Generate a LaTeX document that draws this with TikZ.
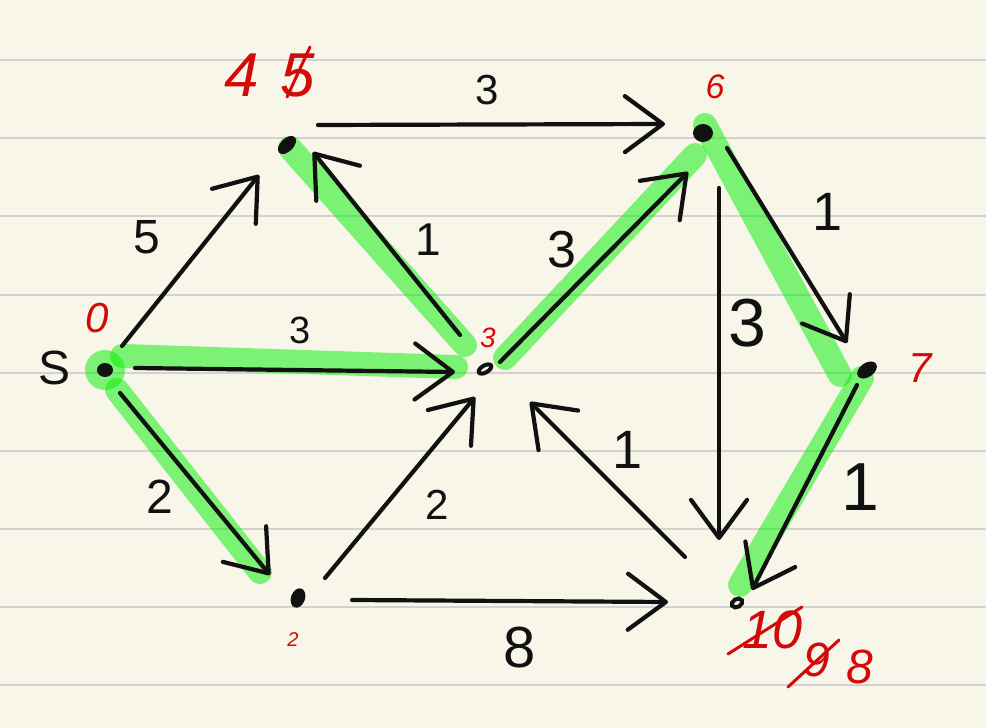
\documentclass[tikz,border=0pt]{standalone}
\usepackage{fontspec}
\setmainfont{Liberation Sans}
\usetikzlibrary{arrows.meta,shapes.geometric}
\definecolor{paper}{HTML}{F8F6E9}
\definecolor{ruling}{HTML}{D2D2D2}
\definecolor{ink}{HTML}{111111}
\definecolor{redink}{HTML}{D20A0A}
\definecolor{hl}{RGB}{0,240,0}
\newcommand{\fsz}[1]{\fontsize{#1}{#1}\selectfont}
\begin{document}
\begin{tikzpicture}[x=0.5pt,y=-0.5pt,
  ruleline/.style={draw=ruling,line width=1pt},
  arr/.style={draw=ink,line width=2.1pt,line cap=round,line join=round,
    -{Straight Barb[length=19pt,width=28pt,round]}},
  hlpath/.style={draw=hl,draw opacity=0.5,line width=12pt,line cap=round},
  dot/.style={ellipse,fill=ink,inner sep=0pt},
  ring/.style={ellipse,draw=ink,line width=2pt,inner sep=0pt},
  wlbl/.style={text=ink,inner sep=0pt},
  rlbl/.style={text=redink,inner sep=0pt,font=\itshape},
  strike/.style={draw=redink,line width=1.5pt,line cap=round}]
\useasboundingbox (0,0) rectangle (986,728);
\fill[paper] (0,0) rectangle (986,728);
\foreach \yy in {60,138,216,294.5,372.5,450.5,528.5,607,685}
  \draw[ruleline] (0,\yy) -- (986,\yy);

% vertices
\coordinate (S) at (105,370);
\coordinate (A) at (287,145);
\coordinate (B) at (485,369);
\coordinate (C) at (298,598);
\coordinate (D) at (703,133);
\coordinate (E) at (867,370);
\coordinate (F) at (737,603);

% green highlights
\fill[hl,fill opacity=0.5] (S) circle (20);
\draw[hlpath] ([shift={(17,-14)}]S) -- ([shift={(-29,-2)}]B);
\draw[hlpath] ([shift={(12,20)}]S) -- ([shift={(-38,-26)}]C);
\draw[hlpath] ([shift={(-20,-24)}]B) -- ([shift={(3,3)}]A);
\draw[hlpath] ([shift={(20,-11)}]B) -- ([shift={(-8,22)}]D);
\draw[hlpath] ([shift={(2,-8)}]D) -- ([shift={(-27,5)}]E);
\draw[hlpath] ([shift={(-5,8)}]E) -- ([shift={(3,-18)}]F);

% dots
\node[dot,minimum width=8pt,minimum height=7pt] (Sd) at (S) {};
\node[dot,minimum width=6.5pt,minimum height=11pt,rotate=-45] (Ad) at (A) {};
\node[ring,minimum width=7pt,minimum height=3.5pt,rotate=30] (Bd) at (B) {};
\node[dot,minimum width=7pt,minimum height=10pt,rotate=-20] (Cd) at (C) {};
\node[dot,minimum width=10pt,minimum height=9pt] (Dd) at (D) {};
\node[dot,minimum width=11pt,minimum height=7pt,rotate=35] (Ed) at (E) {};
\node[ring,minimum width=5.5pt,minimum height=4pt,rotate=30] (Fd) at (F) {};

% arrows
\draw[arr] ([shift={(17,-24)}]S) -- ([shift={(-28,30)}]A);
\draw[arr] ([shift={(30,-2)}]S) -- ([shift={(-30,3)}]B);
\draw[arr] ([shift={(15,23)}]S) -- ([shift={(-28,-23)}]C);
\draw[arr] ([shift={(-25,-34)}]B) -- ([shift={(26,7)}]A);
\draw[arr] ([shift={(31,-20)}]A) -- ([shift={(-38,-9)}]D);
\draw[arr] ([shift={(15,-7)}]B) -- ([shift={(-15,39)}]D);
\draw[arr] ([shift={(27,-20)}]C) -- ([shift={(-10,28)}]B);
\draw[arr] ([shift={(54,2)}]C) -- ([shift={(-69,-1)}]F);
\draw[arr] ([shift={(24,15)}]D) -- ([shift={(-20,-27)}]E);
\draw[arr] ([shift={(16,55)}]D) -- ([shift={(-18,-63)}]F);
\draw[arr] ([shift={(-52,-46)}]F) -- ([shift={(45,33)}]B);
\draw[arr] ([shift={(-10,15)}]E) -- ([shift={(15,-13)}]F);

% edge weights
\node[wlbl,font=\fsz{24}] (wSA) at (147,237) {5};
\node[wlbl,font=\fsz{19}] (wSB) at (300,330) {3};
\node[wlbl,font=\fsz{24}] (wSC) at (160,497) {2};
\node[wlbl,font=\fsz{23}] (wBA) at (428,240) {1};
\node[wlbl,font=\fsz{21}] (wAD) at (487,90) {3};
\node[wlbl,font=\fsz{26}] (wBD) at (562,250) {3};
\node[wlbl,font=\fsz{21}] (wCB) at (437,505) {2};
\node[wlbl,font=\fsz{29}] (wCF) at (520,648) {8};
\node[wlbl,font=\fsz{27}] (wDE) at (828,212) {1};
\node[wlbl,font=\fsz{34}] (wDF) at (747,323) {3};
\node[wlbl,font=\fsz{27}] (wFB) at (628,450) {1};
\node[wlbl,font=\fsz{34}] (wEF) at (860,487) {1};
\node[wlbl,font=\fsz{24}] (lS) at (55,368) {S};

% distances
\node[rlbl,font=\itshape\fsz{21}] (dS) at (97,318) {0};
\node[rlbl,font=\itshape\fsz{31}] (dA1) at (242,75) {4};
\node[rlbl,font=\itshape\fsz{31}] (dA0) at (298,75) {5};
\draw[strike] (287,97) -- (310,47);
\node[rlbl,font=\itshape\fsz{14}] (dB) at (488,338) {3};
\node[rlbl,font=\itshape\fsz{10}] (dC) at (293,640) {2};
\node[rlbl,font=\itshape\fsz{17}] (dD) at (715,87) {6};
\node[rlbl,font=\itshape\fsz{21}] (dE) at (920,368) {7};
\node[rlbl,font=\itshape\fsz{27}] (dF0) at (773,630) {10};
\draw[strike] (728,654) -- (802,607);
\node[rlbl,font=\itshape\fsz{24}] (dF1) at (817,660) {9};
\draw[strike] (788,687) -- (839,640);
\node[rlbl,font=\itshape\fsz{24}] (dF2) at (860,667) {8};
\end{tikzpicture}
\end{document}
